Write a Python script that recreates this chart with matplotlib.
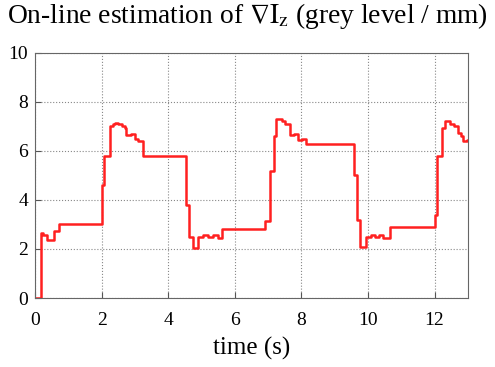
import numpy as np
import matplotlib
matplotlib.use("Agg")
import matplotlib.pyplot as plt

plt.rcParams['font.family'] = ['Liberation Serif', 'DejaVu Serif']
plt.rcParams['mathtext.fontset'] = 'stix'

# step changes of the estimated gradient (time in s, value in grey level / mm)
t_change = [0, 0.17, 0.23, 0.35, 0.58, 0.73, 2.0, 2.08, 2.25, 2.34, 2.4, 2.5,
            2.6, 2.69, 2.74, 2.89, 3.0, 3.1, 3.24, 4.52, 4.62, 4.76, 4.91, 5.06,
            5.2, 5.35, 5.5, 5.61, 6.92, 7.05, 7.17, 7.25, 7.42, 7.52, 7.65, 7.79,
            7.9, 8.02, 8.15, 9.57, 9.67, 9.77, 9.93, 10.08, 10.2, 10.32, 10.45,
            10.66, 12.0, 12.08, 12.21, 12.31, 12.46, 12.58, 12.7, 12.78, 12.85,
            12.96, 13.0]
grad = [0, 2.65, 2.55, 2.35, 2.75, 3.0, 4.6, 5.8, 7.0, 7.1, 7.15, 7.1,
        7.0, 6.95, 6.65, 6.7, 6.5, 6.4, 5.8, 3.8, 2.5, 2.05, 2.5, 2.55,
        2.5, 2.55, 2.45, 2.8, 3.15, 5.2, 6.6, 7.3, 7.2, 7.1, 6.65, 6.7,
        6.45, 6.5, 6.3, 5.0, 3.2, 2.1, 2.5, 2.55, 2.5, 2.55, 2.45,
        2.9, 3.4, 5.8, 6.95, 7.2, 7.1, 7.0, 6.75, 6.6, 6.4,
        6.45, 6.45]

fig = plt.figure(figsize=(4.95, 3.67), dpi=100)
ax = fig.add_axes([0.0707, 0.188, 0.8745, 0.668])

ax.plot(t_change, grad, drawstyle='steps-post', color='#ff2020', lw=1.8)

ax.set_xlim(0, 13)
ax.set_ylim(0, 10)
ax.set_xticks(np.arange(0, 13, 2))
ax.set_yticks(np.arange(0, 11, 2))
ax.grid(True, color='#888888', ls=':', lw=0.8)
ax.tick_params(direction='in', length=4, labelsize=14, color='#555555', pad=5)
ax.tick_params(axis='x', pad=10)
for s in ax.spines.values():
    s.set_color('#666666')
    s.set_linewidth(0.8)

ax.set_xlabel('time (s)', fontsize=18, labelpad=6)
fig.text(0.5, 0.957, r'On-line estimation of $\nabla\mathrm{I}_\mathrm{z}$ (grey level / mm)',
         ha='center', va='center', fontsize=19.8)

fig.savefig('out.png', dpi=100)
